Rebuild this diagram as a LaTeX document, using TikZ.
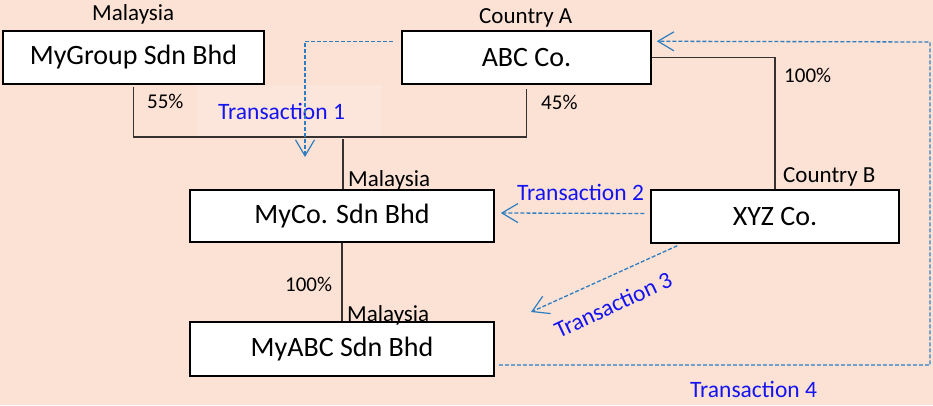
\documentclass[tikz,border=0pt]{standalone}
\usepackage{fontspec}
\setmainfont{Carlito}
\usetikzlibrary{arrows.meta,calc}
\definecolor{paper}{RGB}{251,226,213}
\definecolor{paperlight}{RGB}{252,229,219}
\definecolor{flowblue}{RGB}{46,125,192}
\definecolor{labelblue}{RGB}{20,20,240}
\definecolor{holdcolor}{RGB}{55,50,50}

\begin{document}
\begin{tikzpicture}[x=1pt,y=-1pt,
  entity/.style={draw=black, line width=1.5pt, fill=white, inner sep=0pt,
    font=\fontsize{28}{32}\selectfont},
  place/.style={anchor=base west, inner sep=0pt, font=\fontsize{23}{26}\selectfont},
  share/.style={anchor=base west, inner sep=0pt, font=\fontsize{21}{24}\selectfont},
  txlabel/.style={anchor=base west, inner sep=0pt, text=labelblue,
    font=\fontsize{23.5}{26}\selectfont},
  holding/.style={draw=holdcolor, line width=1.2pt},
  txflow/.style={draw=flowblue, line width=1.3pt, dash pattern=on 4pt off 2pt,
    -{Straight Barb[length=16pt,width=19pt,line width=1.2pt]}},
]
% page
\fill[paper] (0,0) rectangle (933,405);
\useasboundingbox (0,0) rectangle (933,405);
\fill[paperlight] (197,85) rectangle (382,137);

% companies
\node[entity, minimum width=261pt, minimum height=53pt] (mygroup) at (133.5,57.5) {MyGroup Sdn Bhd};
\node[entity, minimum width=249pt, minimum height=53pt] (abc) at (526.5,57.5) {ABC Co.};
\node[entity, minimum width=304pt, minimum height=52pt] (myco) at (342,216) {MyCo. Sdn Bhd};
\node[entity, minimum width=248pt, minimum height=53pt] (xyz) at (775,216.5) {XYZ Co.};
\node[entity, minimum width=304pt, minimum height=54pt] (myabc) at (342,349) {MyABC Sdn Bhd};

% jurisdictions
\node[place] (locmygroup) at (92,20) {Malaysia};
\node[place] (locabc) at (479,23) {Country A};
\node[place] (locmyco) at (348,186) {Malaysia};
\node[place] (locxyz) at (783,182) {Country B};
\node[place] (locmyabc) at (347,321) {Malaysia};

% shareholdings
\coordinate (join) at (343,137);
\draw[holding] ([yshift=-2pt]mygroup.south) |- (join) -| ([yshift=-4pt]abc.south);
\draw[holding] ([yshift=-2pt]join) -- (join |- myco.north);
\draw[holding] (abc.east) -| (xyz.north);
\draw[holding] (myco.south) -- (myabc.north);
\node[share] (p55) at (147,108) {55\%};
\node[share] (p45) at (541,109) {45\%};
\node[share] (p100a) at (784,82) {100\%};
\node[share] (p100b) at (285,291) {100\%};

% transaction labels (the flow lines run over them)
\node[txlabel] (tx1) at (218,119) {Transaction 1};
\node[txlabel] (tx2) at (517,200) {Transaction 2};
\node[txlabel, rotate=25] (tx3) at (559,339) {Transaction 3};
\node[txlabel] (tx4) at (690,397) {Transaction 4};

% transactions
\coordinate (t1end) at (305,157);
\draw[txflow] ($(abc.north west)+(-8,11)$) -| (t1end);
\draw[txflow] ([xshift=-6pt,yshift=3pt]xyz.west) -- ([xshift=6pt,yshift=3pt]myco.east);
\coordinate (t3end) at (531,312);
\draw[txflow] ($(xyz.south west)+(27,2)$) -- (t3end);
\coordinate (t4corner) at (930,42);
\draw[txflow] ([xshift=4pt,yshift=-16pt]myabc.east) -| (t4corner) -- ($(abc.north east)+(5,11)$);
\end{tikzpicture}
\end{document}
